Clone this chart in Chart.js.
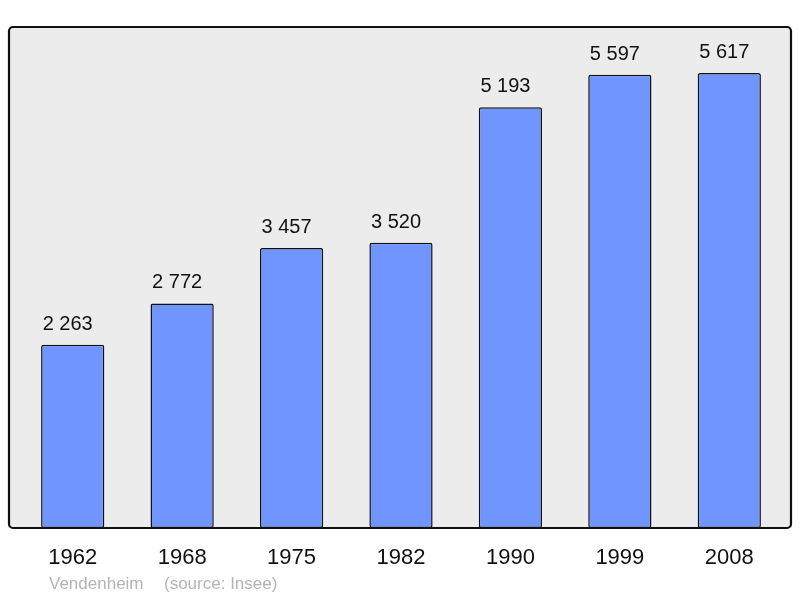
<!DOCTYPE html>
<html>
<head>
<meta charset="utf-8">
<script src="https://cdn.jsdelivr.net/npm/chart.js@4/dist/chart.umd.min.js"></script>
<style>
  html, body { margin: 0; padding: 0; background: #fff; }
  #wrap { width: 800px; height: 598px; position: relative; }
</style>
</head>
<body>
<div id="wrap"><canvas id="canvas"></canvas></div>
<script>
var years = ['1962', '1968', '1975', '1982', '1990', '1999', '2008'];
var population = [2263, 2772, 3457, 3520, 5193, 5597, 5617];
var townName = 'Vendenheim';
var sourceText = '(source: Insee)';

function fmt(n) {
    return String(n).replace(/\B(?=(\d{3})+(?!\d))/g, ' ');
}

// grey panel with black rounded frame behind the bars
var panelPlugin = {
    id: 'panel',
    beforeDraw: function (chart) {
        var ctx = chart.ctx, a = chart.chartArea;
        var x0 = a.left - 9, x1 = a.right + 7, y0 = a.top, y1 = a.bottom;
        ctx.save();
        ctx.beginPath();
        ctx.roundRect(x0, y0, x1 - x0, y1 - y0, 4);
        ctx.fillStyle = '#ececec';
        ctx.fill();
        ctx.restore();
    },
    afterDatasetsDraw: function (chart) {
        var ctx = chart.ctx, a = chart.chartArea;
        var x0 = a.left - 9, x1 = a.right + 7, y0 = a.top, y1 = a.bottom;
        ctx.save();
        ctx.beginPath();
        ctx.roundRect(x0, y0, x1 - x0, y1 - y0, 4);
        ctx.lineWidth = 2.2;
        ctx.strokeStyle = '#111';
        ctx.stroke();

        // value labels on top of the bars
        var meta = chart.getDatasetMeta(0);
        ctx.font = '20px "Liberation Sans", Arial, sans-serif';
        ctx.fillStyle = '#111';
        ctx.textAlign = 'center';
        ctx.textBaseline = 'alphabetic';
        meta.data.forEach(function (bar, i) {
            ctx.fillText(fmt(population[i]), bar.x - 5, bar.y - 15);
        });

        // footer
        ctx.font = '17px "Liberation Sans", Arial, sans-serif';
        ctx.fillStyle = '#b4b4b4';
        ctx.textAlign = 'left';
        ctx.textBaseline = 'middle';
        ctx.fillText(townName, 49, 584);
        ctx.fillText(sourceText, 164, 584);
        ctx.restore();
    }
};

var ctx = document.getElementById('canvas');
var myChart = new Chart(ctx, {
    type: 'bar',
    data: {
        labels: years,
        datasets: [
            {
                data: population,
                backgroundColor: 'rgb(112,149,255)',
                borderColor: '#111',
                borderWidth: 1.5,
                borderRadius: 2,
                borderSkipped: false,
                barPercentage: 0.578,
                categoryPercentage: 1
            }
        ]
    },
    options: {
        responsive: true,
        maintainAspectRatio: false,
        animation: false,
        layout: {
            padding: { left: 18, right: 16, top: 27, bottom: 0 }
        },
        plugins: {
            legend: { display: false },
            tooltip: { enabled: false }
        },
        scales: {
            x: {
                grid: { display: false, drawTicks: false },
                border: { display: false },
                ticks: {
                    color: '#111',
                    padding: 17,
                    font: { size: 22, family: '"Liberation Sans", Arial, sans-serif' }
                },
                afterFit: function (scale) { scale.height = 70; }
            },
            y: {
                display: false,
                min: 0,
                max: 6185
            }
        }
    },
    plugins: [panelPlugin]
});
</script>
</body>
</html>
